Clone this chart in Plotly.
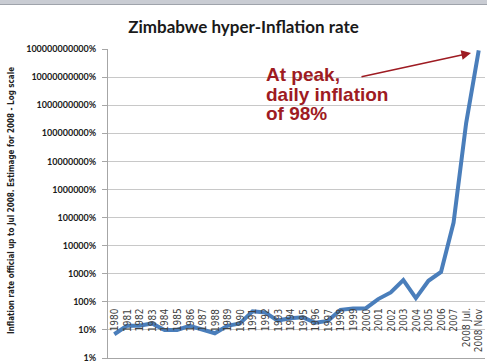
import plotly.graph_objects as go

# ---- data ----
categories = ["1980", "1981", "1982", "1983", "1984", "1985", "1986", "1987", "1988", "1989",
              "1990", "1991", "1992", "1993", "1994", "1995", "1996", "1997", "1998", "1999",
              "2000", "2001", "2002", "2003", "2004", "2005", "2006", "2007", "2008 Jul.", "2008 Nov"]
inflation_pct = [7, 14, 14, 17, 10, 10, 14, 10, 7.6, 14,
                 17, 46, 42, 21.5, 26, 28, 18, 21, 52, 58,
                 58, 125, 215, 594, 135, 560, 1160, 66000, 231000000, 9.0e10]
y_tick_values = [1, 10, 100, 1e3, 1e4, 1e5, 1e6, 1e7, 1e8, 1e9, 1e10, 1e11]
y_tick_labels = ["1%", "10%", "100%", "1000%", "10000%", "100000%", "1000000%",
                 "10000000%", "100000000%", "1000000000%", "10000000000%", "100000000000%"]

title_text = "Zimbabwe hyper-Inflation rate"
y_title_text = "Inflation rate official up to Jul 2008. Estimage for 2008 - Log scale"
note_lines = ["At peak,", "daily inflation", "of 98%"]

W, H = 487, 364
L, R, T, B = 108, 2, 49, 6
PW, PH = W - L - R, H - T - B

def px_x(x):
    return (x - L) / PW

def px_y(y):
    return (H - B - y) / PH

fig = go.Figure()
fig.add_trace(go.Scatter(
    x=list(range(len(categories))), y=inflation_pct, mode="lines",
    line=dict(color="#4a7ebb", width=4),
    hoverinfo="skip", showlegend=False,
))

annotations = []
# category labels placed inside the plot, just under the 100% gridline
for i, c in enumerate(categories):
    annotations.append(dict(
        x=i, y=1.83, xref="x", yref="y", text=c, showarrow=False,
        textangle=-90, xanchor="center", yanchor="top",
        font=dict(family="Liberation Sans Narrow, DejaVu Sans Condensed, Roboto, sans-serif",
                  size=10, color="#404040"),
    ))

# y axis title
annotations.append(dict(
    x=px_x(11), y=px_y(201), xref="paper", yref="paper", text="<b>" + y_title_text + "</b>",
    showarrow=False, textangle=-90, xanchor="center", yanchor="middle",
    font=dict(family="Liberation Sans Narrow, DejaVu Sans Condensed, Lato, sans-serif",
              size=8, color="#222222"),
))

# note text, one annotation per line for tight line spacing
for k, line_txt in enumerate(note_lines):
    annotations.append(dict(
        x=px_x(264), y=px_y(74.5 + 19.5 * k), xref="paper", yref="paper",
        text="<b>" + line_txt + "</b>",
        showarrow=False, xanchor="left", yanchor="middle", align="left",
        font=dict(family="Liberation Sans, Arial, sans-serif", size=19, color="#9e1b22"),
    ))
# arrow
annotations.append(dict(
    x=px_x(471), y=px_y(53), xref="paper", yref="paper", text="",
    showarrow=True, arrowhead=2, arrowsize=1.2, arrowwidth=1.6, arrowcolor="#9e1b22",
    axref="pixel", ayref="pixel", ax=360 - 471, ay=77 - 53,
))

fig.update_layout(
    width=W, height=H,
    margin=dict(l=L, r=R, t=T, b=B),
    paper_bgcolor="white", plot_bgcolor="white",
    title=dict(text="<b>" + title_text + "</b>", x=0.5, xref="container", xanchor="center",
               y=1 - 27 / H, yanchor="middle",
               font=dict(family="Lato, Open Sans, sans-serif", size=17, color="#1a1a1a")),
    xaxis=dict(range=[-0.5, len(categories) - 0.5],
               showticklabels=False, showgrid=False, ticks="",
               showline=True, linecolor="#a6a6a6", linewidth=1, zeroline=False),
    yaxis=dict(type="log", range=[0, 11], tickvals=y_tick_values, ticktext=y_tick_labels,
               showgrid=True, gridcolor="#c8c8c8", gridwidth=1,
               showline=True, linecolor="#a6a6a6", linewidth=1,
               ticks="outside", ticklen=5, tickcolor="#a6a6a6", ticklabelstandoff=4,
               tickfont=dict(family="Lato, Open Sans, sans-serif", size=9, color="#1a1a1a",
                             weight="bold"),
               zeroline=False),
    annotations=annotations,
    shapes=[
        dict(type="rect", xref="paper", yref="paper",
             x0=px_x(0), x1=px_x(W), y0=px_y(5), y1=px_y(0),
             fillcolor="#c9ccd3", line=dict(width=0), layer="above"),
        dict(type="line", xref="paper", yref="paper",
             x0=px_x(0), x1=px_x(W), y0=px_y(4.5), y1=px_y(4.5),
             line=dict(color="#9fa3ab", width=1), layer="above"),
    ],
)

fig.write_html("out.html", config={"displayModeBar": False},
               post_script="document.body.style.margin='0';document.body.style.overflow='hidden';")
